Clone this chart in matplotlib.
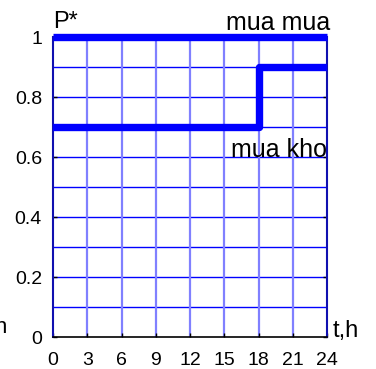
import numpy as np
import matplotlib.pyplot as plt

plt.rcParams['font.family'] = ['Liberation Sans', 'DejaVu Sans']

# data
t_mua = [0, 24]
p_mua = [1.0, 1.0]
t_kho = [0, 18, 18, 24]
p_kho = [0.7, 0.7, 0.9, 0.9]
xticks = [0, 3, 6, 9, 12, 15, 18, 21, 24]
yticks = [0, 0.2, 0.4, 0.6, 0.8, 1]
ytick_labels = ['0', '0.2', '0.4', '0.6', '0.8', '1']

W, H = 376, 369
fig = plt.figure(figsize=(W / 100, H / 100), dpi=100)
ax = fig.add_axes([53 / W, 1 - 337 / H, 274 / W, 300 / H])


def px(x, y):
    # pixel position (from top-left) -> figure fraction
    return x / W, 1 - y / H


# grid
for yy in np.arange(0.1, 1.0, 0.1):
    ax.axhline(yy, color='#0000ff', lw=1.0, zorder=1)
for xx in xticks[1:-1]:
    ax.axvline(xx, color='#8080ff', lw=1.6, zorder=1)

ax.plot(t_mua, p_mua, color='#0000ff', lw=5.3, solid_capstyle='butt', zorder=3, clip_on=False)
ax.plot(t_kho, p_kho, color='#0000ff', lw=5.3, solid_joinstyle='round', zorder=3)

ax.set_xlim(0, 24)
ax.set_ylim(0, 1)
ax.set_xticks(xticks)
ax.set_yticks(yticks)
ax.set_yticklabels(ytick_labels)
ax.tick_params(direction='in', length=3, width=1, labelsize=14, colors='black')
ax.tick_params(axis='x', pad=11)
ax.tick_params(axis='y', pad=8, right=True)

for s in ['left', 'right']:
    ax.spines[s].set_color('#1010b0')
    ax.spines[s].set_linewidth(1.5)
ax.spines['top'].set_visible(False)
ax.spines['bottom'].set_color('black')
ax.spines['bottom'].set_linewidth(1.2)

fig.text(*px(53, 28), 'P*', fontsize=17, ha='left', va='baseline')
fig.text(*px(330, 30), 'mua mua', fontsize=18, ha='right', va='baseline')
fig.text(*px(327, 157), 'mua kho', fontsize=18, ha='right', va='baseline')
fig.text(*px(333, 337), 't,h', fontsize=17, ha='left', va='baseline')
fig.text(*px(-6, 333), 'h', fontsize=16, ha='left', va='baseline')

fig.savefig('out.png', dpi=100)
